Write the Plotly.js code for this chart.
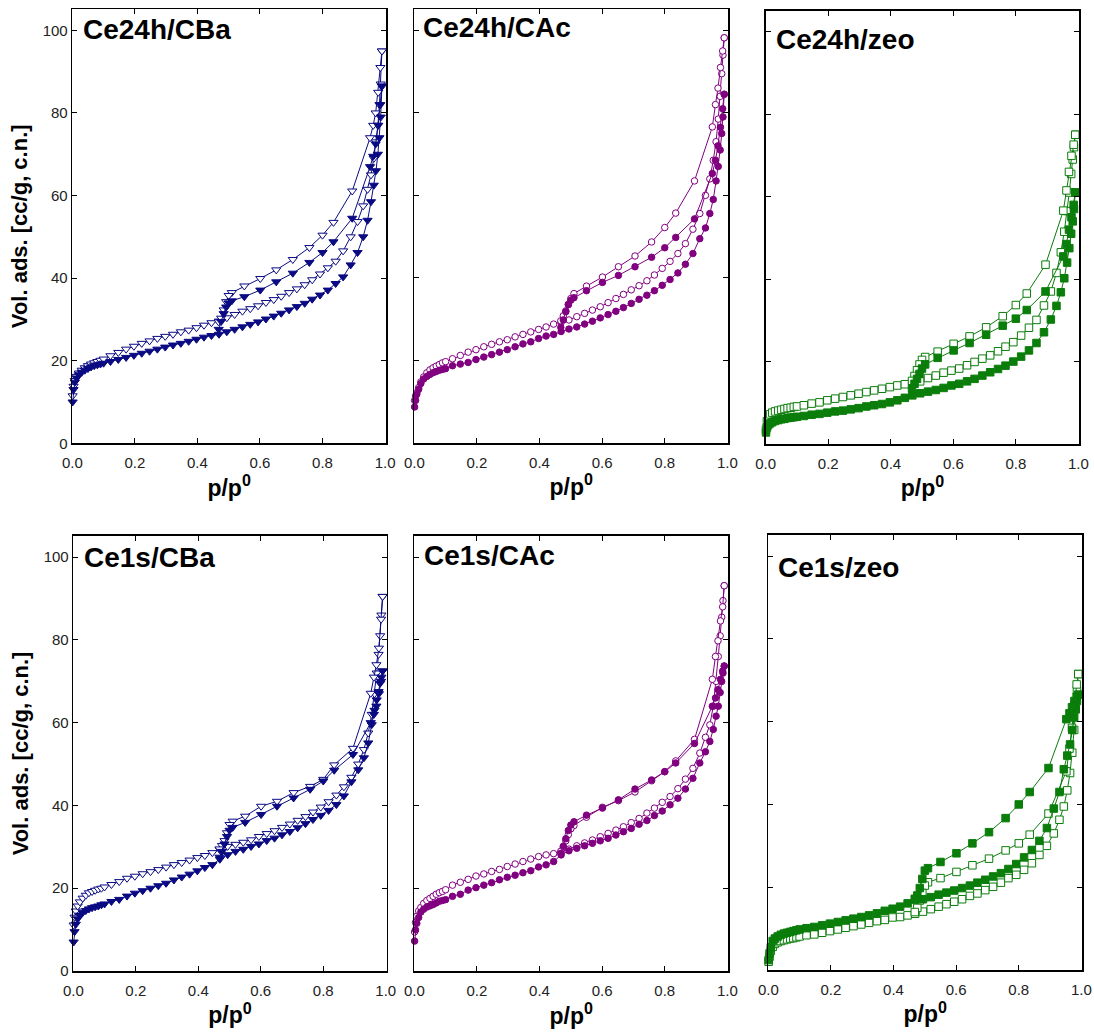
<!DOCTYPE html>
<html>
<head>
<meta charset="utf-8">
<script src="https://cdn.plot.ly/plotly-3.0.1.min.js"></script>
<style>html,body{margin:0;padding:0;background:#fff;}#chart{width:1094px;height:1032px;}</style>
</head>
<body>
<div id="chart"></div>
<script>
// Relative pressure grids (p/p0)
const pAds = [0.001, 0.004, 0.008, 0.014, 0.021, 0.03, 0.04, 0.05, 0.06, 0.07, 0.08, 0.09, 0.1, 0.122, 0.147, 0.172, 0.197, 0.222, 0.247, 0.272, 0.297, 0.322, 0.347, 0.372, 0.397, 0.421, 0.445, 0.469, 0.494, 0.519, 0.544, 0.569, 0.594, 0.619, 0.644, 0.668, 0.693, 0.718, 0.743, 0.767, 0.792, 0.817, 0.842, 0.866, 0.89, 0.912, 0.93, 0.944, 0.955, 0.964, 0.971, 0.977, 0.982, 0.986, 0.99];
const pDes = [0.99, 0.985, 0.978, 0.97, 0.962, 0.952, 0.895, 0.835, 0.8, 0.758, 0.705, 0.652, 0.601, 0.55, 0.51, 0.5, 0.492, 0.484, 0.476, 0.468];

const panelTitles = ["Ce24h/CBa", "Ce24h/CAc", "Ce24h/zeo", "Ce1s/CBa", "Ce1s/CAc", "Ce1s/zeo"];
const xTickVals = [0, 0.2, 0.4, 0.6, 0.8, 1.0];
const yTickVals = [0, 20, 40, 60, 80, 100];

// Ce24h/CBa
const ce24hCBaOpenAds = [11.5, 13.8, 15.2, 16.2, 17.0, 17.7, 18.3, 18.8, 19.2, 19.5, 19.8, 20.1, 20.4, 21.2, 22.0, 22.8, 23.5, 24.2, 24.8, 25.4, 25.9, 26.4, 27.0, 27.4, 28.0, 28.6, 29.2, 29.6, 30.4, 31.2, 32.0, 32.6, 33.3, 34.1, 34.8, 35.6, 36.5, 37.4, 38.4, 39.6, 41.0, 42.5, 44.1, 46.6, 50.0, 53.7, 57.5, 61.5, 65.0, 69.0, 73.0, 77.0, 82.0, 87.0, 95.0];
const ce24hCBaOpenDes = [95.0, 91.0, 85.0, 80.0, 77.0, 74.0, 61.1, 53.5, 50.4, 47.4, 44.5, 42.0, 39.9, 38.1, 36.5, 35.8, 34.3, 32.3, 30.3, 29.4];
const ce24hCBaFilledAds = [10.0, 13.0, 14.8, 15.8, 16.6, 17.2, 17.7, 18.1, 18.5, 18.8, 19.0, 19.2, 19.4, 19.8, 20.3, 20.8, 21.3, 21.8, 22.3, 22.8, 23.3, 23.8, 24.2, 24.7, 25.2, 25.7, 26.1, 26.4, 27.0, 27.6, 28.2, 28.8, 29.4, 30.1, 30.8, 31.5, 32.3, 33.1, 33.9, 34.9, 35.9, 37.1, 38.7, 40.3, 43.2, 46.2, 50.0, 54.0, 58.5, 62.5, 66.0, 70.0, 74.0, 79.0, 86.5];
const ce24hCBaFilledDes = [86.5, 82.0, 77.0, 72.5, 69.5, 67.0, 54.5, 48.8, 46.2, 43.8, 41.2, 39.1, 37.1, 35.5, 34.5, 34.0, 33.0, 31.4, 29.5, 27.6];

// Ce24h/CAc
const ce24hCAcOpenAds = [10.3, 11.4, 12.2, 13.4, 14.8, 16.0, 17.0, 17.7, 18.2, 18.6, 19.0, 19.4, 19.7, 20.4, 21.2, 22.0, 22.6, 23.3, 23.9, 24.5, 25.0, 25.7, 26.3, 26.9, 27.5, 28.1, 28.8, 29.2, 29.8, 30.6, 31.4, 32.2, 33.0, 34.0, 35.0, 36.0, 37.1, 38.1, 39.3, 40.7, 42.3, 44.0, 45.9, 48.3, 51.8, 55.6, 60.0, 64.0, 68.5, 73.0, 78.5, 84.0, 89.5, 94.0, 98.2];
const ce24hCAcOpenDes = [98.2, 95.0, 91.0, 86.0, 82.0, 76.6, 63.5, 55.7, 52.2, 48.7, 45.3, 42.7, 40.2, 38.0, 36.2, 35.0, 33.6, 32.0, 30.8, 29.6];
const ce24hCAcFilledAds = [8.7, 10.3, 11.8, 13.0, 14.4, 15.5, 16.1, 16.6, 17.0, 17.3, 17.6, 17.8, 18.0, 18.7, 19.1, 19.5, 20.2, 20.8, 21.4, 22.0, 22.6, 23.3, 24.0, 24.5, 25.3, 25.9, 26.3, 27.0, 27.6, 28.1, 28.8, 29.5, 30.3, 31.1, 31.9, 32.8, 33.8, 34.8, 35.8, 36.9, 38.2, 39.6, 41.2, 43.3, 45.9, 49.5, 52.1, 55.6, 59.0, 63.5, 67.0, 71.0, 75.0, 79.0, 84.5];
const ce24hCAcFilledDes = [84.5, 81.0, 76.5, 72.0, 68.5, 65.3, 54.3, 49.8, 47.3, 45.0, 42.7, 40.6, 38.9, 36.9, 35.2, 34.6, 33.5, 31.8, 29.8, 28.0];

// Ce24h/zeo
const ce24hZeoOpenAds = [3.5, 5.5, 6.5, 7.2, 7.6, 7.9, 8.1, 8.3, 8.5, 8.7, 8.8, 9.0, 9.1, 9.4, 9.8, 10.1, 10.6, 11.0, 11.4, 11.8, 12.2, 12.6, 13.0, 13.4, 13.8, 14.2, 14.5, 14.8, 15.2, 16.0, 16.6, 17.3, 17.8, 18.3, 19.1, 19.9, 20.7, 21.5, 22.5, 23.6, 24.7, 26.3, 28.2, 30.1, 33.6, 37.0, 41.5, 46.5, 51.5, 56.5, 61.0, 65.5, 69.0, 72.0, 75.0];
const ce24hZeoOpenDes = [75.0, 72.6, 69.9, 66.0, 61.5, 56.6, 43.5, 36.5, 33.7, 31.0, 28.3, 26.1, 24.3, 22.4, 21.1, 20.4, 19.3, 17.9, 16.5, 15.3];
const ce24hZeoFilledAds = [2.8, 4.0, 4.6, 5.0, 5.3, 5.6, 5.8, 6.0, 6.1, 6.3, 6.4, 6.5, 6.6, 6.8, 7.1, 7.3, 7.6, 7.9, 8.1, 8.4, 8.7, 9.1, 9.4, 9.7, 10.1, 10.6, 11.2, 11.8, 12.3, 12.7, 13.1, 13.6, 14.2, 14.6, 15.2, 15.8, 16.6, 17.4, 18.2, 19.0, 20.0, 21.2, 22.7, 24.5, 27.1, 30.2, 33.5, 36.8, 40.2, 44.0, 47.5, 51.0, 54.0, 57.0, 61.0];
const ce24hZeoFilledDes = [61.0, 58.0, 55.0, 52.0, 48.5, 45.5, 37.0, 32.5, 30.4, 28.7, 26.5, 24.5, 22.7, 20.9, 19.3, 18.3, 17.0, 15.8, 14.6, 13.5];

// Ce1s/CBa
const ce1sCBaOpenAds = [11.1, 13.0, 14.5, 15.7, 16.7, 17.6, 18.3, 18.9, 19.2, 19.5, 19.8, 20.0, 20.3, 20.9, 21.6, 22.4, 22.9, 23.5, 24.0, 24.5, 25.1, 25.7, 26.2, 26.8, 27.4, 27.9, 28.6, 29.3, 30.1, 30.6, 31.1, 31.7, 32.5, 33.2, 33.9, 34.7, 35.5, 36.4, 37.3, 38.4, 39.6, 40.9, 42.5, 44.5, 46.8, 50.0, 53.5, 57.5, 62.0, 67.0, 72.0, 76.5, 81.0, 86.0, 90.5];
const ce1sCBaOpenDes = [90.5, 85.0, 78.0, 74.0, 71.0, 67.1, 53.8, 49.8, 46.3, 44.6, 43.1, 41.0, 39.8, 37.4, 36.2, 35.4, 33.4, 31.5, 30.3, 29.5];
const ce1sCBaFilledAds = [7.0, 9.5, 11.3, 12.6, 13.5, 14.1, 14.6, 15.0, 15.3, 15.5, 15.7, 16.0, 16.2, 16.8, 17.3, 18.1, 18.8, 19.4, 20.0, 20.6, 21.2, 22.0, 22.7, 23.4, 24.2, 25.0, 25.7, 27.0, 28.1, 28.9, 29.4, 30.1, 30.7, 31.5, 32.1, 32.9, 33.7, 34.6, 35.6, 36.6, 37.6, 38.8, 40.2, 42.3, 45.7, 48.6, 51.5, 55.1, 59.5, 63.0, 65.5, 67.5, 69.5, 71.0, 72.5];
const ce1sCBaFilledDes = [72.5, 70.0, 67.0, 64.0, 62.0, 60.0, 52.3, 48.5, 45.9, 43.9, 41.8, 39.8, 37.8, 35.9, 34.7, 34.0, 32.5, 30.7, 28.9, 27.5];

// Ce1s/CAc
const ce1sCAcOpenAds = [9.5, 11.8, 13.3, 14.6, 15.4, 16.4, 17.1, 17.6, 18.1, 18.6, 19.0, 19.3, 19.7, 20.8, 21.5, 22.2, 23.0, 23.5, 24.1, 24.6, 25.3, 25.9, 26.5, 27.1, 27.7, 28.1, 28.4, 28.9, 29.5, 30.3, 31.0, 31.7, 32.5, 33.3, 34.1, 34.9, 35.9, 36.9, 38.2, 39.4, 40.8, 42.2, 44.1, 46.4, 49.0, 52.7, 56.5, 59.5, 64.0, 70.0, 76.0, 81.0, 85.5, 89.5, 93.1];
const ce1sCAcOpenDes = [93.1, 88.0, 84.6, 79.8, 76.0, 70.5, 56.0, 50.8, 48.2, 46.0, 43.3, 41.2, 39.6, 37.2, 35.2, 34.4, 33.0, 31.5, 30.0, 29.0];
const ce1sCAcFilledAds = [7.3, 10.0, 11.6, 13.0, 14.3, 15.0, 15.5, 15.8, 16.1, 16.5, 16.9, 17.1, 17.3, 18.1, 18.6, 19.6, 20.2, 20.8, 21.4, 22.1, 22.7, 23.2, 23.8, 24.3, 25.2, 25.7, 26.5, 28.1, 29.1, 29.7, 30.3, 30.9, 31.5, 32.1, 32.9, 33.7, 34.5, 35.5, 36.4, 37.6, 38.7, 40.2, 41.8, 44.0, 46.6, 50.3, 53.0, 55.5, 58.4, 61.6, 64.0, 67.3, 70.0, 72.0, 73.7];
const ce1sCAcFilledDes = [73.7, 72.5, 70.5, 68.0, 66.0, 64.0, 55.0, 50.3, 48.2, 46.2, 44.0, 41.4, 39.4, 37.7, 36.1, 35.3, 34.0, 32.0, 30.2, 28.5];

// Ce1s/zeo
const ce1sZeoOpenAds = [2.0, 3.2, 4.6, 5.6, 6.3, 6.7, 7.0, 7.2, 7.4, 7.6, 7.7, 7.9, 8.1, 8.4, 8.6, 9.0, 9.4, 9.8, 10.2, 10.6, 11.0, 11.4, 11.8, 12.1, 12.7, 12.8, 13.2, 13.6, 14.1, 14.7, 15.3, 15.9, 16.5, 17.1, 17.9, 18.5, 19.3, 20.1, 21.1, 22.2, 23.0, 24.2, 25.8, 27.8, 30.0, 33.0, 36.3, 39.5, 43.4, 47.6, 52.5, 58.0, 63.0, 67.5, 71.5];
const ce1sZeoOpenDes = [71.5, 69.0, 64.0, 58.5, 53.5, 48.0, 37.8, 32.7, 30.6, 28.9, 26.9, 25.3, 23.7, 22.2, 21.2, 20.4, 18.6, 16.8, 15.0, 14.0];
const ce1sZeoFilledAds = [2.4, 4.0, 5.5, 7.0, 7.6, 8.1, 8.5, 8.8, 9.0, 9.2, 9.4, 9.6, 9.8, 10.1, 10.4, 10.8, 11.2, 11.6, 12.0, 12.4, 12.8, 13.2, 13.7, 14.3, 14.8, 15.3, 16.1, 17.0, 17.1, 17.6, 18.2, 18.7, 19.2, 19.8, 20.4, 21.1, 21.8, 22.6, 23.4, 24.4, 25.6, 27.2, 29.0, 31.2, 34.3, 39.0, 43.0, 48.5, 51.8, 54.5, 58.0, 61.0, 63.0, 65.0, 66.5];
const ce1sZeoFilledDes = [66.5, 66.0, 65.0, 63.5, 62.0, 60.6, 48.8, 43.0, 40.0, 36.7, 33.3, 30.6, 28.2, 26.1, 24.6, 24.0, 22.0, 19.8, 18.0, 17.2];

const NAVY = '#0a0a82', PURPLE = '#800080', GREEN = '#0a7d0a';

const panels = [
  {color: NAVY, sym: 'triangle-down', size: 8, open: [ce24hCBaOpenAds, ce24hCBaOpenDes], filled: [ce24hCBaFilledAds, ce24hCBaFilledDes],
   xd: [72.3, 386.0], yd: [9.3, 443.3]},
  {color: PURPLE, sym: 'circle', size: 6.5, open: [ce24hCAcOpenAds, ce24hCAcOpenDes], filled: [ce24hCAcFilledAds, ce24hCAcFilledDes],
   xd: [414.3, 728.3], yd: [9.3, 442.9]},
  {color: GREEN, sym: 'square', size: 7.5, open: [ce24hZeoOpenAds, ce24hZeoOpenDes], filled: [ce24hZeoFilledAds, ce24hZeoFilledDes],
   xd: [765.7, 1079.3], yd: [10.7, 444.0]},
  {color: NAVY, sym: 'triangle-down', size: 8, open: [ce1sCBaOpenAds, ce1sCBaOpenDes], filled: [ce1sCBaFilledAds, ce1sCBaFilledDes],
   xd: [73.3, 386.7], yd: [536.0, 971.0]},
  {color: PURPLE, sym: 'circle', size: 6.5, open: [ce1sCAcOpenAds, ce1sCAcOpenDes], filled: [ce1sCAcFilledAds, ce1sCAcFilledDes],
   xd: [414.3, 728.3], yd: [536.0, 971.3]},
  {color: GREEN, sym: 'square', size: 7.5, open: [ce1sZeoOpenAds, ce1sZeoOpenDes], filled: [ce1sZeoFilledAds, ce1sZeoFilledDes],
   xd: [768.3, 1082.3], yd: [535.0, 970.0]}
];
const titlePos = [[81, 12], [421, 10], [774, 22], [82, 540], [422, 538], [776, 550]];

const W = 1094, H = 1032;
const FONT = '"Liberation Sans", Arial, Helvetica, sans-serif';
const traces = [];
const layout = {
  width: W, height: H, margin: {l: 0, r: 0, t: 0, b: 0},
  paper_bgcolor: '#fff', plot_bgcolor: '#fff', showlegend: false,
  font: {family: FONT, color: '#222'},
  annotations: []
};

panels.forEach((pn, i) => {
  const n = i + 1;
  const xa = n === 1 ? 'x' : 'x' + n, ya = n === 1 ? 'y' : 'y' + n;
  const mk = (ys, xs, filled) => ({
    type: 'scatter', mode: 'lines+markers', x: xs, y: ys, xaxis: xa, yaxis: ya,
    cliponaxis: false, hoverinfo: 'x+y',
    line: {color: pn.color, width: 1},
    marker: {symbol: pn.sym, size: pn.size, color: filled ? pn.color : '#ffffff',
             line: {color: pn.color, width: 1}}
  });
  traces.push(mk(pn.open[0], pAds, false));
  traces.push(mk(pn.open[1], pDes, false));
  traces.push(mk(pn.filled[0], pAds, true));
  traces.push(mk(pn.filled[1], pDes, true));

  const showY = (n === 1 || n === 4);
  layout['xaxis' + (n === 1 ? '' : n)] = {
    domain: [pn.xd[0] / W, pn.xd[1] / W], anchor: ya, range: [0, 1.003],
    tickvals: xTickVals, tickformat: '.1f', ticks: 'inside', ticklen: 5, tickwidth: 1, tickcolor: '#000',
    ticklabelstandoff: 5,
    showline: true, linecolor: '#000', linewidth: 1.6, mirror: 'ticks', showgrid: false, zeroline: false,
    tickfont: {size: 15, color: '#222', family: FONT},
    title: {text: '<b>p/p<sup>0</sup></b>', font: {size: 23, color: '#000', family: FONT}, standoff: 3}
  };
  const yax = {
    domain: [1 - pn.yd[1] / H, 1 - pn.yd[0] / H], anchor: xa, range: [0, 105.1],
    tickvals: yTickVals, ticks: 'inside', ticklen: 5, tickwidth: 1, tickcolor: '#000',
    showline: true, linecolor: '#000', linewidth: 1.6, mirror: 'ticks', showgrid: false, zeroline: false,
    showticklabels: showY,
    tickfont: {size: 15, color: '#222', family: FONT}
  };
  if (showY) {
    yax.title = {text: '<b>Vol. ads. [cc/g, c.n.]</b>', font: {size: 22, color: '#000', family: FONT}, standoff: 9};
  }
  layout['yaxis' + (n === 1 ? '' : n)] = yax;
  layout.annotations.push({
    xref: 'paper', yref: 'paper', x: titlePos[i][0] / W, y: 1 - titlePos[i][1] / H,
    xanchor: 'left', yanchor: 'top', showarrow: false,
    text: '<b>' + panelTitles[i] + '</b>', font: {size: 28, color: '#000', family: FONT}
  });
});

Plotly.newPlot('chart', traces, layout, {displayModeBar: false, staticPlot: true});
</script>
</body>
</html>
